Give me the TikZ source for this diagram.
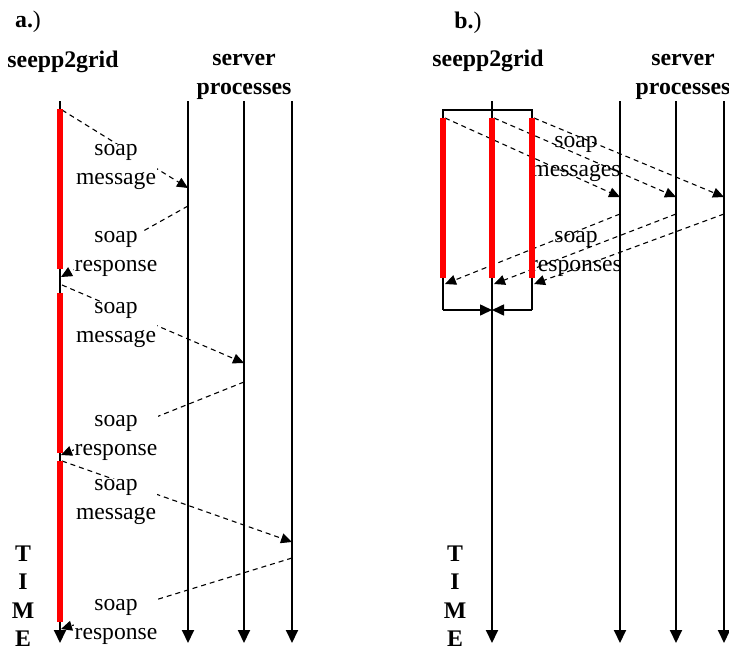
\documentclass[tikz,border=0pt]{standalone}
\usepackage{fontspec}
\setmainfont{Liberation Serif}
\usetikzlibrary{arrows.meta}
\begin{document}
\begin{tikzpicture}[x=1pt,y=-1pt,
  life/.style={line width=1.9pt,-{Triangle[length=13pt,width=12pt]}},
  msg/.style={line width=1.1pt,dash pattern=on 5pt off 4pt,-{Triangle[length=11pt,width=10pt]}},
  lbl/.style={font=\fontsize{23.6}{28.5}\selectfont,align=center,inner sep=1pt},
  wlbl/.style={lbl,fill=white},
  head/.style={font=\fontsize{23.8}{28.5}\selectfont\bfseries,align=center,inner sep=0pt},
  bar/.style={fill=red,draw=none},
  frame/.style={line width=1.6pt}]
\useasboundingbox (0,0) rectangle (729,651);
% ---------- panel a ----------
\node[head] (la) at (28,22) {a.\mdseries)};
\node[head] (ca) at (63,62) {seepp2grid};
\node[head] (sa) at (244,77) {server\\processes};
\node[head] (ta) at (23,596) {T\\I\\M\\E};
\coordinate (a0t) at (60,101); \coordinate (a0b) at (60,643);
\coordinate (a1t) at (188,101); \coordinate (a1b) at (188,643);
\coordinate (a2t) at (244,101); \coordinate (a2b) at (244,643);
\coordinate (a3t) at (292,101); \coordinate (a3b) at (292,643);
\draw[life] (a0t) -- (a0b);
\draw[life] (a1t) -- (a1b);
\draw[life] (a2t) -- (a2b);
\draw[life] (a3t) -- (a3b);
% message endpoints
\coordinate (am1s) at (62,110); \coordinate (am1e) at (188,188);
\coordinate (ar1s) at (188,206); \coordinate (ar1e) at (61,277);
\coordinate (am2s) at (62,285); \coordinate (am2e) at (244,363);
\coordinate (ar2s) at (244,382); \coordinate (ar2e) at (61,455);
\coordinate (am3s) at (62,461); \coordinate (am3e) at (292,542);
\coordinate (ar3s) at (292,558); \coordinate (ar3e) at (61,629);
\draw[msg] (am1s) -- (am1e);
\draw[msg] (ar1s) -- (ar1e);
\draw[msg] (am2s) -- (am2e);
\draw[msg] (ar2s) -- (ar2e);
\draw[msg] (am3s) -- (am3e);
\draw[msg] (ar3s) -- (ar3e);
\node[wlbl] (tm1) at (116,167) {soap\\message};
\node[wlbl] (tr1) at (116,254) {soap\\response};
\node[wlbl] (tm2) at (116,325) {soap\\message};
\node[wlbl] (tr2) at (116,438) {soap\\response};
\node[wlbl] (tm3) at (116,502) {soap\\message};
\node[wlbl] (tr3) at (116,622) {soap\\response};
\fill[bar] (57,109) rectangle (63,269);
\fill[bar] (57,293) rectangle (63,453);
\fill[bar] (57,461) rectangle (63,622);
% ---------- panel b ----------
\node[head] (lb) at (468,23) {b.\mdseries)};
\node[head] (cb) at (488,61) {seepp2grid};
\node[head] (sb) at (683,77) {server\\processes};
\node[head] (tb) at (455,596) {T\\I\\M\\E};
\coordinate (b0t) at (492,101); \coordinate (b0b) at (492,643);
\coordinate (b1t) at (620,101); \coordinate (b1b) at (620,643);
\coordinate (b2t) at (676,101); \coordinate (b2b) at (676,643);
\coordinate (b3t) at (724,101); \coordinate (b3b) at (724,643);
\draw[life] (b0t) -- (b0b);
\draw[life] (b1t) -- (b1b);
\draw[life] (b2t) -- (b2b);
\draw[life] (b3t) -- (b3b);
% fork / join frame
\coordinate (fl) at (443,310); \coordinate (fr) at (532,310); \coordinate (fm) at (492,310);
\draw[frame] (fl) -- (443,110) -- (532,110) -- (fr);
\draw[frame,-{Triangle[length=12pt,width=11pt]}] (fl) -- (fm);
\draw[frame,-{Triangle[length=12pt,width=11pt]}] (fr) -- (fm);
% messages
\coordinate (bm1s) at (445,118); \coordinate (bm1e) at (620,197);
\coordinate (bm2s) at (494,118); \coordinate (bm2e) at (676,197);
\coordinate (bm3s) at (534,118); \coordinate (bm3e) at (724,197);
\coordinate (br1s) at (620,214); \coordinate (br1e) at (445,284);
\coordinate (br2s) at (676,214); \coordinate (br2e) at (494,284);
\coordinate (br3s) at (724,214); \coordinate (br3e) at (534,284);
\node[lbl] (tbm) at (576,159) {soap\\messages};
\node[lbl] (tbr) at (576,254) {soap\\responses};
\draw[msg] (bm1s) -- (bm1e);
\draw[msg] (bm2s) -- (bm2e);
\draw[msg] (bm3s) -- (bm3e);
\draw[msg] (br1s) -- (br1e);
\draw[msg] (br2s) -- (br2e);
\draw[msg] (br3s) -- (br3e);
\fill[bar] (440,118) rectangle (446,278);
\fill[bar] (489,118) rectangle (495,278);
\fill[bar] (529,118) rectangle (535,278);
\end{tikzpicture}
\end{document}
